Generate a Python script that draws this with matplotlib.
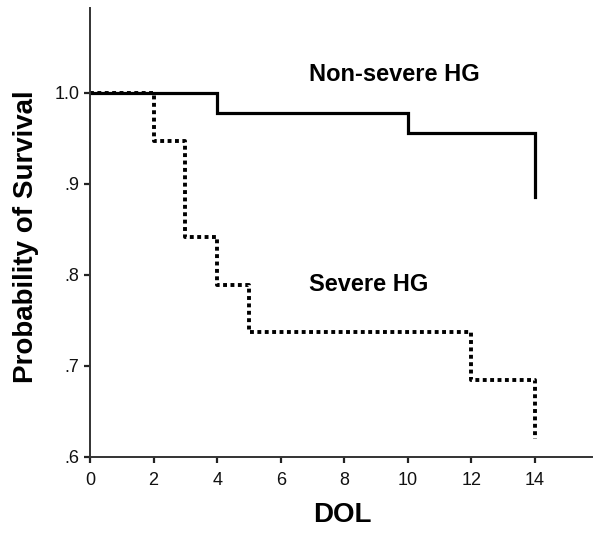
import matplotlib
matplotlib.use("Agg")
import matplotlib.pyplot as plt

plt.rcParams['font.family'] = ['Liberation Sans', 'DejaVu Sans']

# Kaplan-Meier estimates
nonsevere_days = [0, 4, 10, 14]
nonsevere_surv = [1.0, 0.978, 0.956, 0.886]
severe_days = [0, 2, 3, 4, 5, 12, 14]
severe_surv = [1.0, 0.947, 0.842, 0.789, 0.737, 0.684, 0.62]

x_ticks = [0, 2, 4, 6, 8, 10, 12, 14]
y_ticks = [0.6, 0.7, 0.8, 0.9, 1.0]
y_tick_labels = [".6", ".7", ".8", ".9", "1.0"]

fig = plt.figure(figsize=(6.01, 5.36), dpi=100)
ax = fig.add_axes([0.1498, 0.1474, 0.8355, 0.8376])

ax.step(nonsevere_days, nonsevere_surv, where='post', color='black',
        lw=2.3, solid_joinstyle='miter')
ax.step(severe_days, severe_surv, where='post', color='black',
        lw=2.8, linestyle=(0, (1, 0.9)))

ax.text(6.9, 1.02, "Non-severe HG", fontsize=17, fontweight='bold',
        va='center', ha='left')
ax.text(6.9, 0.789, "Severe HG", fontsize=17, fontweight='bold',
        va='center', ha='left')

ax.set_xlim(0, 15.8)
ax.set_ylim(0.6, 1.093)
ax.set_xticks(x_ticks)
ax.set_yticks(y_ticks)
ax.set_yticklabels(y_tick_labels)

for side in ['top', 'right']:
    ax.spines[side].set_visible(False)
for side in ['left', 'bottom']:
    ax.spines[side].set_linewidth(1.4)
    ax.spines[side].set_color('#333333')

ax.tick_params(axis='both', direction='out', length=4.5, width=1.6,
               color='#222222', labelsize=13, labelcolor='#111111')
ax.tick_params(axis='x', pad=6)
ax.tick_params(axis='y', pad=3)

ax.set_xlabel("DOL", fontsize=20, fontweight='bold', va='center')
ax.xaxis.set_label_coords(0.502, -0.129)
ax.set_ylabel("Probability of Survival", fontsize=20, fontweight='bold',
              va='center')
ax.yaxis.set_label_coords(-0.127, 0.49)

fig.savefig("out.png", dpi=100)
